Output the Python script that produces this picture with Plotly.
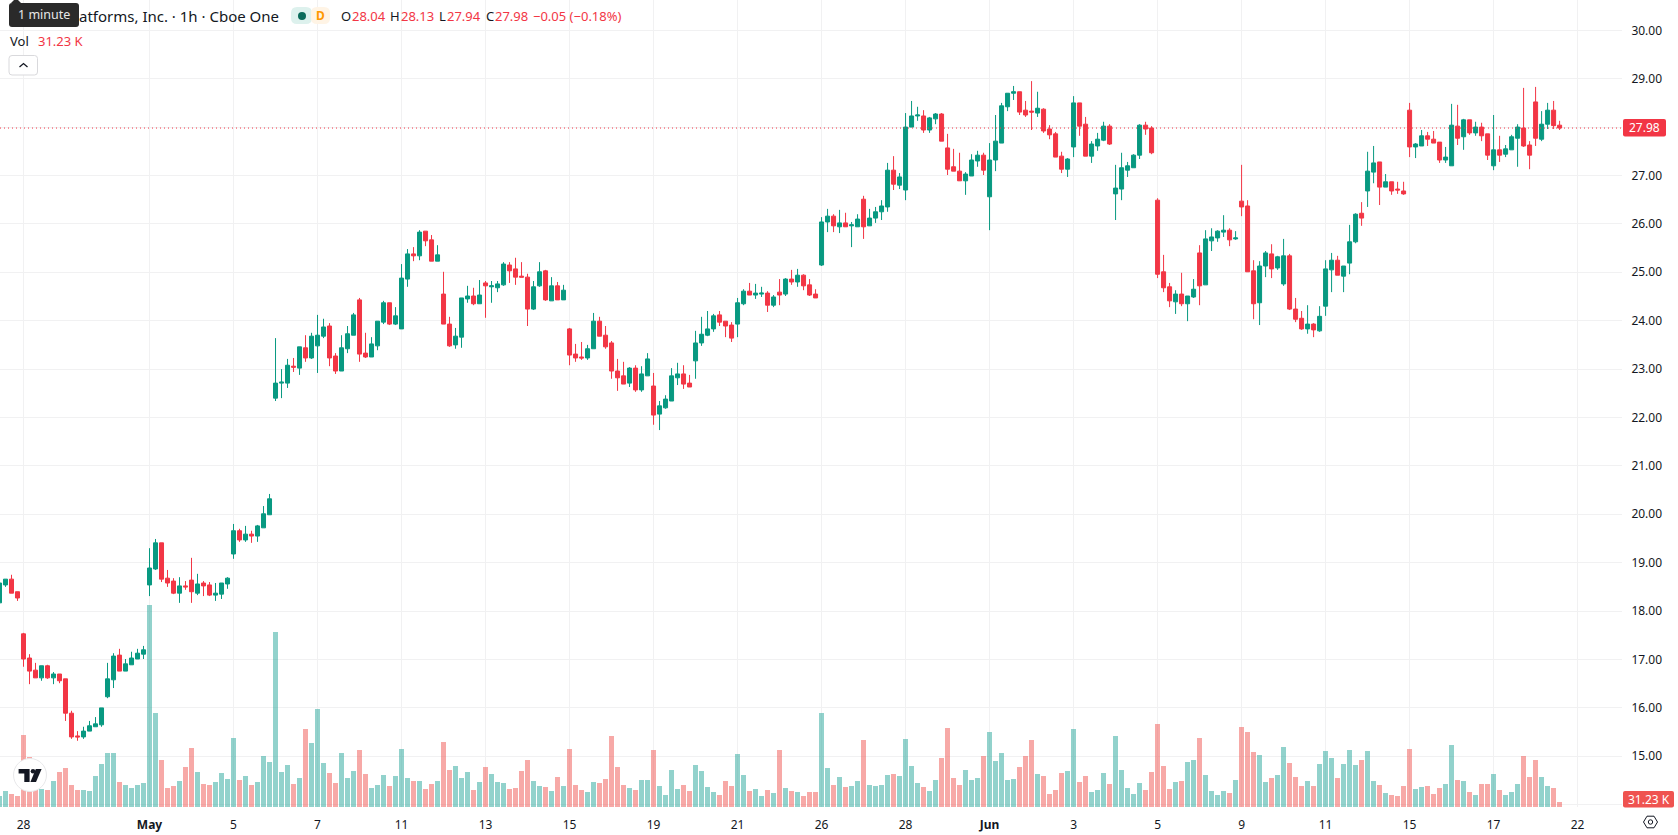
import plotly.graph_objects as go

# Hourly session data, one entry per bar
opens = [
 18.17,18.54,18.66,18.40,17.53,17.03,16.78,16.62,16.87,16.62,
 16.70,16.60,15.89,15.42,15.40,15.52,15.61,15.65,16.23,16.58,
 17.09,16.76,16.89,17.01,17.11,18.54,18.87,19.41,18.68,18.62,
 18.37,18.52,18.64,18.37,18.58,18.54,18.33,18.35,18.56,19.18,
 19.66,19.47,19.59,19.55,19.72,19.99,22.40,22.71,22.71,23.06,
 23.02,23.44,23.23,23.48,23.68,23.89,23.27,22.96,23.42,23.70,
 24.43,23.33,23.25,23.48,23.97,24.37,23.93,23.83,24.86,25.38,
 25.34,25.85,25.67,25.23,24.55,23.93,23.50,23.66,24.45,24.51,
 24.35,24.78,24.70,24.68,24.74,25.15,25.07,24.92,24.90,24.24,
 24.72,25.03,24.41,24.72,24.43,23.83,23.31,23.25,23.23,23.42,
 23.99,23.70,23.54,22.96,22.86,22.71,23.02,22.57,22.86,22.65,
 22.07,22.20,22.34,22.82,22.90,22.71,23.17,23.54,23.70,23.83,
 24.12,23.99,23.91,23.93,24.35,24.61,24.53,24.55,24.57,24.32,
 24.59,24.55,24.86,24.80,24.94,24.74,24.55,25.15,26.04,26.16,
 25.94,26.02,25.96,25.94,26.51,25.96,26.12,26.25,26.35,27.11,
 26.80,26.70,28.00,28.23,28.23,27.94,28.17,28.27,27.57,27.18,
 27.09,26.89,26.99,27.30,27.42,26.56,27.32,27.67,28.42,28.70,
 28.73,28.35,28.33,28.29,28.37,27.96,27.86,27.40,27.13,27.59,
 28.50,28.06,27.40,27.61,27.73,28.02,26.62,26.72,27.11,27.16,
 27.42,28.04,27.98,26.49,25.01,24.70,24.39,24.55,24.35,24.49,
 25.40,24.74,25.65,25.71,25.83,25.87,25.69,26.47,26.37,25.03,
 24.37,25.13,25.38,25.09,24.76,25.34,24.24,24.05,23.83,23.93,
 23.79,24.30,25.05,25.25,24.92,25.19,25.63,26.22,26.68,27.07,
 27.28,26.76,26.87,26.72,26.68,28.35,27.59,27.61,27.82,27.75,
 27.69,27.32,27.20,28.02,27.80,28.15,27.88,28.00,27.86,27.20,
 27.53,27.44,27.53,27.77,27.98,27.63,28.52,27.75,28.06,28.35,
 28.04,
]
highs = [
 18.61,18.66,18.75,18.40,17.55,17.11,16.93,16.87,16.89,16.74,
 16.70,16.60,15.94,15.52,15.61,15.73,15.81,16.00,16.93,17.13,
 17.22,17.01,17.16,17.22,17.28,19.30,19.49,19.41,18.85,18.68,
 18.70,18.62,19.10,18.77,18.62,18.60,18.58,18.58,18.70,19.80,
 19.70,19.76,19.66,19.78,20.17,20.42,23.64,23.00,23.21,23.23,
 23.46,23.70,23.75,24.12,24.04,23.95,23.33,23.70,23.89,24.16,
 24.47,23.75,23.66,23.99,24.41,24.37,24.28,25.17,25.48,25.52,
 25.87,25.85,25.77,25.56,25.01,24.08,23.85,24.47,24.72,24.68,
 24.84,24.82,24.82,24.82,25.21,25.21,25.30,25.21,24.97,24.82,
 25.21,25.05,24.90,24.80,24.74,23.85,23.52,23.56,23.50,24.16,
 24.08,23.89,23.58,23.21,23.15,23.04,23.08,23.06,23.33,22.92,
 22.34,22.46,23.02,23.13,23.08,22.88,23.79,24.08,24.20,24.14,
 24.20,23.99,23.97,24.47,24.65,24.78,24.76,24.70,24.61,24.53,
 24.86,24.88,25.05,25.07,24.96,24.86,24.65,26.14,26.31,26.20,
 26.29,26.23,26.04,26.20,26.58,26.31,26.35,26.49,27.26,27.40,
 27.05,28.29,28.54,28.42,28.35,28.21,28.29,28.29,27.86,27.55,
 27.47,27.07,27.44,27.51,27.47,27.67,28.25,28.50,28.70,28.85,
 28.73,28.54,28.95,28.73,28.39,28.04,27.90,27.49,27.36,28.64,
 28.50,28.21,27.71,27.88,28.11,28.06,27.22,27.47,27.28,27.44,
 28.06,28.11,28.02,26.53,25.36,24.78,24.63,24.99,24.51,24.86,
 25.56,25.87,25.91,25.87,26.18,25.91,25.85,27.22,26.49,25.25,
 25.23,25.44,25.58,25.34,25.69,25.38,24.47,24.20,24.32,23.95,
 24.30,25.25,25.40,25.34,25.13,25.98,26.22,26.45,27.49,27.61,
 27.28,27.03,26.87,26.87,26.87,28.50,27.67,27.94,27.90,27.92,
 27.69,27.59,28.48,28.46,28.17,28.15,28.11,28.09,27.86,28.25,
 27.82,27.63,27.84,28.06,28.81,27.71,28.83,28.33,28.50,28.54,
 28.13,
]
lows = [
 18.17,18.50,18.37,18.21,16.85,16.49,16.62,16.56,16.60,16.49,
 16.51,15.73,15.36,15.32,15.36,15.52,15.61,15.61,16.20,16.41,
 16.76,16.76,16.89,17.01,17.01,18.31,18.85,18.60,18.50,18.35,
 18.17,18.44,18.17,18.33,18.31,18.31,18.21,18.25,18.46,19.08,
 19.43,19.43,19.41,19.43,19.72,19.99,22.34,22.40,22.61,22.94,
 22.88,23.15,23.21,22.92,23.64,23.06,22.90,22.96,23.33,23.70,
 23.15,23.23,23.25,23.39,23.93,23.91,23.91,23.83,24.70,25.23,
 25.25,25.54,25.23,25.23,23.93,23.46,23.42,23.44,24.37,24.32,
 24.35,24.06,24.37,24.59,24.72,24.78,24.74,24.90,23.89,24.22,
 24.70,24.41,24.41,24.43,24.43,23.08,23.15,23.19,23.19,23.42,
 23.68,23.42,22.80,22.55,22.69,22.63,22.53,22.53,22.86,21.85,
 21.74,22.18,22.34,22.67,22.59,22.63,22.80,23.48,23.68,23.77,
 23.89,23.66,23.56,23.66,24.32,24.53,24.45,24.49,24.18,24.28,
 24.32,24.51,24.74,24.70,24.63,24.51,24.47,25.13,25.83,25.83,
 25.81,25.94,25.52,25.94,25.69,25.96,26.02,26.08,26.25,26.70,
 26.72,26.49,28.00,28.13,27.88,27.88,28.06,27.71,27.01,27.09,
 26.89,26.60,26.99,27.18,27.01,25.87,27.09,27.67,28.33,28.56,
 28.25,28.21,27.94,28.21,27.88,27.75,27.38,27.05,26.97,27.38,
 27.82,27.40,27.26,27.51,27.71,27.63,26.08,26.49,26.97,27.16,
 27.34,27.84,27.44,24.88,24.59,24.28,24.14,24.30,23.99,24.47,
 24.32,24.74,25.44,25.63,25.73,25.54,25.67,26.16,25.01,24.03,
 23.91,24.90,24.88,25.05,24.72,24.22,23.97,23.81,23.73,23.66,
 23.77,24.10,24.59,24.94,24.59,24.96,25.60,25.96,26.35,26.84,
 26.39,26.76,26.60,26.62,26.60,27.38,27.36,27.61,27.61,27.67,
 27.26,27.26,27.20,27.63,27.53,27.84,27.82,27.71,27.32,27.11,
 27.28,27.38,27.53,27.18,27.59,27.13,27.61,27.71,27.96,27.96,
 27.94,
]
closes = [
 18.58,18.66,18.37,18.27,17.01,16.76,16.62,16.87,16.62,16.70,
 16.56,15.89,15.40,15.40,15.52,15.63,15.67,16.00,16.60,17.07,
 16.76,16.91,17.03,17.13,17.20,18.89,19.41,18.66,18.58,18.37,
 18.52,18.50,18.40,18.56,18.52,18.33,18.37,18.58,18.68,19.66,
 19.47,19.59,19.55,19.76,20.01,20.32,22.71,22.73,23.08,23.04,
 23.46,23.23,23.68,23.70,23.87,23.23,22.96,23.44,23.73,24.12,
 23.31,23.25,23.52,23.99,24.37,23.93,24.10,24.88,25.38,25.34,
 25.83,25.65,25.23,25.36,23.93,23.48,23.68,24.47,24.51,24.35,
 24.53,24.72,24.72,24.76,25.17,25.03,24.90,24.90,24.24,24.70,
 25.01,24.43,24.72,24.43,24.63,23.29,23.23,23.23,23.42,23.99,
 23.68,23.46,22.96,22.82,22.69,23.02,22.57,22.90,23.21,22.05,
 22.24,22.38,22.86,22.90,22.69,22.63,23.54,23.72,23.83,24.10,
 23.97,23.89,23.64,24.37,24.61,24.53,24.57,24.57,24.32,24.49,
 24.53,24.86,24.80,24.94,24.72,24.53,24.47,26.04,26.16,25.96,
 26.02,25.94,25.98,26.10,25.94,26.12,26.25,26.37,27.11,26.82,
 26.97,28.00,28.23,28.25,27.94,28.19,28.27,27.71,27.13,27.09,
 26.89,27.03,27.32,27.42,27.11,27.32,27.71,28.44,28.70,28.73,
 28.31,28.25,28.31,28.39,27.92,27.84,27.38,27.13,27.34,28.50,
 28.02,27.40,27.65,27.75,28.02,27.65,26.74,27.16,27.20,27.42,
 28.04,27.96,27.47,24.96,24.68,24.41,24.55,24.35,24.51,24.65,
 24.72,25.69,25.73,25.85,25.87,25.67,25.71,26.35,25.01,24.35,
 25.13,25.40,25.07,25.32,25.34,24.24,24.03,23.83,23.93,23.81,
 24.09,25.07,25.25,24.94,25.13,25.63,26.20,26.12,27.09,27.26,
 26.76,26.87,26.68,26.70,26.62,27.59,27.65,27.82,27.75,27.67,
 27.32,27.38,28.04,27.77,28.15,27.88,28.00,27.82,27.42,27.53,
 27.42,27.55,27.80,28.00,27.61,27.42,27.77,28.06,28.35,28.03,
 27.98,
]
# Volume per bar, in thousands of shares
volumes_k = [
 68,99,81,68,446,310,105,112,105,161,
 217,242,136,105,105,99,192,267,335,335,
 155,136,118,136,149,1253,583,291,118,130,
 161,248,366,217,143,136,155,211,174,428,
 167,192,136,155,316,279,1085,217,260,143,
 180,484,397,608,273,211,149,335,180,223,
 353,205,118,136,198,130,192,360,180,161,
 161,112,143,161,403,229,254,180,217,105,
 155,248,205,155,149,112,118,223,291,161,
 130,124,99,186,130,360,136,105,93,155,
 149,174,440,248,136,118,105,167,167,353,
 130,74,229,112,136,99,260,223,124,93,
 74,161,130,329,198,99,112,68,105,87,
 353,118,99,93,68,93,93,583,242,136,
 186,124,130,161,415,136,130,136,198,205,
 192,422,254,149,124,99,167,304,490,180,
 136,229,167,180,316,465,285,335,167,174,
 248,316,415,205,192,81,105,211,223,484,
 155,192,93,105,211,143,440,229,118,81,
 149,105,217,515,254,112,155,161,279,291,
 428,198,99,74,99,87,167,496,465,341,
 322,155,180,198,372,273,186,130,161,130,
 267,347,304,180,267,353,260,291,347,161,
 136,87,74,68,130,360,112,124,130,81,
 118,143,384,167,161,93,74,143,143,205,
 105,74,93,143,316,186,291,186,130,118,
 31.23,
]

# Date labels and the bars they sit under
tick_bars = [4, 25, 39, 53, 67, 81, 95, 109, 123, 137, 151, 165, 179, 193, 207, 221, 235, 249, 263]
tick_labels = ["28", "<b>May</b>", "5", "7", "11", "13", "15", "19", "21", "26", "28",
               "<b>Jun</b>", "3", "5", "9", "11", "15", "17", "22"]
price_ticks = [14, 15, 16, 17, 18, 19, 20, 21, 22, 23, 24, 25, 26, 27, 28, 29, 30]
price_labels = [""] + [f"{p}.00" for p in price_ticks[1:]]

last_price = 27.98
legend_ohlc = [("O", "28.04", 340, 351), ("H", "28.13", 389, 399.5), ("L", "27.94", 437.5, 446), ("C", "27.98", 484.5, 494)]
change_text = "−0.05 (−0.18%)"
volume_text = "31.23 K"

UP = "#089981"
DOWN = "#F23645"
UP_VOL = "rgba(38,166,154,0.5)"
DOWN_VOL = "rgba(239,83,80,0.5)"
INK = "#131722"
GRID = "#f1f1f2"
FONT = "Noto Sans"

WIDTH, HEIGHT = 1678, 835
PLOT_W, PLOT_H = 1622, 807
BAR_PX = 6.0


def xp(px):
    return px / PLOT_W


def yp(py):
    return 1 - py / PLOT_H


def round_rect(x0, y0, x1, y1, r):
    """Rounded rectangle as an SVG path, given in screen pixels."""
    return (f"M{xp(x0 + r)},{yp(y0)} L{xp(x1 - r)},{yp(y0)} Q{xp(x1)},{yp(y0)} {xp(x1)},{yp(y0 + r)} "
            f"L{xp(x1)},{yp(y1 - r)} Q{xp(x1)},{yp(y1)} {xp(x1 - r)},{yp(y1)} "
            f"L{xp(x0 + r)},{yp(y1)} Q{xp(x0)},{yp(y1)} {xp(x0)},{yp(y1 - r)} "
            f"L{xp(x0)},{yp(y0 + r)} Q{xp(x0)},{yp(y0)} {xp(x0 + r)},{yp(y0)} Z")


def poly(points, close=True):
    body = " L".join(f"{xp(a)},{yp(b)}" for a, b in points)
    return "M" + body + (" Z" if close else "")


def paper_shape(**kw):
    return dict(xref="paper", yref="paper", layer="above", **kw)


def circle(cx, cy, r, **kw):
    return paper_shape(type="circle", x0=xp(cx - r), x1=xp(cx + r), y0=yp(cy + r), y1=yp(cy - r), **kw)


def label(px, py, text, size=13, color=INK, anchor="left", **kw):
    return dict(xref="paper", yref="paper", x=xp(px), y=yp(py), text=text, showarrow=False,
                xanchor=anchor, yanchor="middle", align=anchor,
                font=dict(family=FONT, size=size, color=color), borderpad=0, **kw)


bars = list(range(len(closes)))
volume_colors = [UP_VOL if c >= o else DOWN_VOL for o, c in zip(opens, closes)]

fig = go.Figure()
fig.add_trace(go.Bar(x=bars, y=volumes_k, width=5 / BAR_PX, marker=dict(color=volume_colors, line=dict(width=0)),
                     yaxis="y", hoverinfo="skip", showlegend=False))
fig.add_trace(go.Candlestick(
    x=bars, open=opens, high=highs, low=lows, close=closes, yaxis="y2",
    increasing=dict(line=dict(color=UP, width=1), fillcolor=UP),
    decreasing=dict(line=dict(color=DOWN, width=1), fillcolor=DOWN),
    whiskerwidth=0, hoverinfo="skip", showlegend=False))

shapes = [
    # last price line and its axis tag
    dict(type="line", xref="paper", yref="y2", x0=0, x1=1, y0=last_price, y1=last_price,
         line=dict(color=DOWN, width=1, dash="1px,3px"), layer="above"),
    paper_shape(type="path", path=round_rect(1623, 119, 1666, 136.5, 2), fillcolor=DOWN, line=dict(width=0)),
    paper_shape(type="path", path=round_rect(1623, 791, 1674, 807.5, 2), fillcolor="#EF5350", line=dict(width=0)),
    # data-source pills
    paper_shape(type="path", path=round_rect(291, 7, 312, 24, 6), fillcolor="#DDF1ED", line=dict(width=0)),
    paper_shape(type="path", path=round_rect(311, 7, 330, 24, 6), fillcolor="#FFF4E5", line=dict(width=0)),
    circle(302, 16, 4, fillcolor="#0B6B5B", line=dict(width=0)),
    # collapse button
    paper_shape(type="path", path=round_rect(9, 55.5, 37.5, 75, 3), fillcolor="white", line=dict(color="#D9D9DC", width=1)),
    paper_shape(type="path", path=poly([(19.5, 67), (23.5, 63.5), (27.5, 67)], close=False),
                line=dict(color=INK, width=1.3)),
    # hover tip
    paper_shape(type="path", path=round_rect(9, 3, 79, 27, 3), fillcolor="#2A2A2A", line=dict(width=0)),
    paper_shape(type="path", path=poly([(11, 3), (16, -2), (21, 3)]), fillcolor="#2A2A2A", line=dict(width=0)),
    # logo badge
    circle(30, 775, 16.5, fillcolor="white", line=dict(color="#E8E8EA", width=1)),
    paper_shape(type="path", path=poly([(18.6, 769), (29.6, 769), (29.6, 782), (24.3, 782), (24.3, 773.6), (18.6, 773.6)]),
                fillcolor=INK, line=dict(width=0)),
    paper_shape(type="path", path=poly([(35.8, 769), (41.6, 769), (36, 782), (30.4, 782)]),
                fillcolor=INK, line=dict(width=0)),
    circle(33, 771.3, 2.3, fillcolor=INK, line=dict(width=0)),
    # settings icon
    paper_shape(type="path", path=poly([(1643.5, 822), (1647, 816.2), (1654, 816.2), (1657.5, 822), (1654, 827.8), (1647, 827.8)]),
                fillcolor="white", line=dict(color=INK, width=1)),
    circle(1650.5, 822, 2.2, fillcolor="white", line=dict(color=INK, width=1)),
]

annotations = [
    label(77.5, 16, "atforms, Inc. · 1h · Cboe One", size=15),
    label(320.5, 15.5, "<b>D</b>", size=12, color="#FF9800", anchor="center"),
    label(44, 15, "1 minute", size=12.5, color="#E8E8E8", anchor="center"),
    label(9, 41, "Vol", size=13),
    label(37, 41, volume_text, size=13, color=DOWN),
    label(532, 16, change_text, size=13, color=DOWN),
    label(1644.5, 127.7, f"{last_price:.2f}", size=12, color="white", anchor="center"),
    label(1648.5, 799, volume_text, size=12, color="white", anchor="center"),
]
for name, value, x_name, x_value in legend_ohlc:
    annotations.append(label(x_name, 16, name, size=13))
    annotations.append(label(x_value, 16, value, size=13, color=DOWN))

fig.update_layout(
    width=WIDTH, height=HEIGHT,
    margin=dict(l=0, r=WIDTH - PLOT_W, t=0, b=HEIGHT - PLOT_H, pad=0),
    paper_bgcolor="white", plot_bgcolor="white",
    font=dict(family=FONT, size=12, color=INK),
    showlegend=False, bargap=0, boxmode="overlay", boxgap=0.33, boxgroupgap=0,
    xaxis=dict(range=[0.0833, 270.4], tickmode="array", tickvals=tick_bars, ticktext=tick_labels,
               showgrid=True, gridcolor=GRID, gridwidth=1, zeroline=False, showline=False,
               ticks="outside", ticklen=7, tickcolor="white", tickfont=dict(family=FONT, size=12, color=INK),
               rangeslider=dict(visible=False), fixedrange=True),
    # volume shares the pane with price but is scaled to the lower part only
    yaxis=dict(range=[0, 5003], visible=False, showgrid=False, zeroline=False, fixedrange=True),
    yaxis2=dict(range=[13.952, 30.626], overlaying="y", side="right", anchor="x",
                tickmode="array", tickvals=price_ticks, ticktext=price_labels,
                showgrid=True, gridcolor=GRID, gridwidth=1, zeroline=False, showline=False,
                ticks="outside", ticklen=6, tickcolor="white", tickfont=dict(family=FONT, size=12, color=INK),
                fixedrange=True),
    shapes=shapes, annotations=annotations,
)

fig.write_html("out.html", config={"displayModeBar": False})
